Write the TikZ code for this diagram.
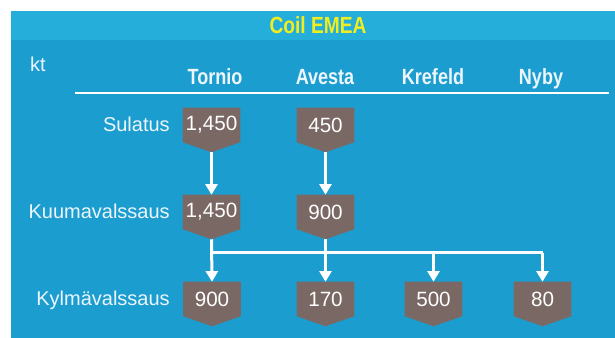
\documentclass[tikz,border=0pt]{standalone}
\usepackage{fontspec}
\setmainfont{Liberation Sans}
\newfontfamily\narrowfont[FakeStretch=0.82]{Liberation Sans}
\usetikzlibrary{arrows.meta,backgrounds,calc}
\definecolor{panelblue}{RGB}{28,157,208}
\definecolor{bandblue}{RGB}{38,174,218}
\definecolor{boxbrown}{RGB}{122,104,100}
\definecolor{titleyellow}{RGB}{242,238,30}
\definecolor{lighttext}{RGB}{236,246,252}
\begin{document}
\begin{tikzpicture}[x=0.75pt,y=-0.75pt,
  rowlabel/.style={anchor=base east, text=lighttext, font=\fontsize{15}{18}\selectfont, inner sep=0},
  colhead/.style={anchor=base, text=lighttext, font=\narrowfont\bfseries\fontsize{16.5}{19}\selectfont, inner sep=0},
  valbox/.style={minimum width=42.75pt, minimum height=25.5pt, inner sep=0, text=white, font=\fontsize{15.5}{18}\selectfont},
  flow/.style={white, line width=2.25pt, -{Triangle[width=9pt,length=8pt]}},
  link/.style={white, line width=2.25pt}]
\useasboundingbox (0,0) rectangle (615,338);
% title and headers
\node[text=titleyellow, font=\narrowfont\bfseries\fontsize{17.5}{20}\selectfont, inner sep=0] (title) at (318,25) {Coil EMEA};
\node[text=lighttext, font=\fontsize{15}{18}\selectfont, inner sep=0] (kt) at (38,64) {kt};
\node[colhead] (hT) at (215,85) {Tornio};
\node[colhead] (hA) at (325,85) {Avesta};
\node[colhead] (hK) at (433,85) {Krefeld};
\node[colhead] (hN) at (541,85) {Nyby};
% row labels
\node[rowlabel] (r1) at (170,132) {Sulatus};
\node[rowlabel] (r2) at (170,219) {Kuumavalssaus};
\node[rowlabel] (r3) at (170,306) {Kylmävalssaus};
% boxes
\node[valbox] (t1) at (211.5,125) {1,450};
\node[valbox] (a1) at (325.5,125) {450};
\node[valbox] (t2) at (211.5,212) {1,450};
\node[valbox] (a2) at (325.5,212) {900};
\node[valbox] (t3) at (212,299) {900};
\node[valbox] (a3) at (325.5,299) {170};
\node[valbox] (k3) at (433.5,299) {500};
\node[valbox] (n3) at (542.5,299) {80};
\begin{scope}[on background layer]
  \fill[white] (0,0) rectangle (615,338);
  \fill[panelblue] (11,11) rectangle (615,338);
  \fill[bandblue] (11,11) rectangle (615,40);
  \foreach \b in {t1,a1,t2,a2,t3,a3,k3,n3}{
    \fill[boxbrown] (\b.north west) -- (\b.north east) -- (\b.south east)
      -- ($(\b.south)+(0,10)$) -- (\b.south west) -- cycle;
  }
\end{scope}
% header rule
\coordinate (ruleL) at (75,93);
\coordinate (ruleR) at (609,93);
\draw[white, line width=1.9pt] (ruleL) -- (ruleR);
% connectors
\draw[flow] ($(t1.south)+(0,10)$) -- (t2.north);
\draw[flow] ($(a1.south)+(0,10)$) -- (a2.north);
\coordinate (j) at (212,253);
\draw[flow] ($(t2.south)+(0,10)$) -- (t3.north);
\draw[flow] ($(a2.south)+(0,10)$) -- (a3.north);
\draw[link] (t3.north |- j) -- (n3.north |- j);
\draw[flow] (k3.north |- j) -- (k3.north);
\draw[flow] (n3.north |- j) -- (n3.north);
\end{tikzpicture}
\end{document}
